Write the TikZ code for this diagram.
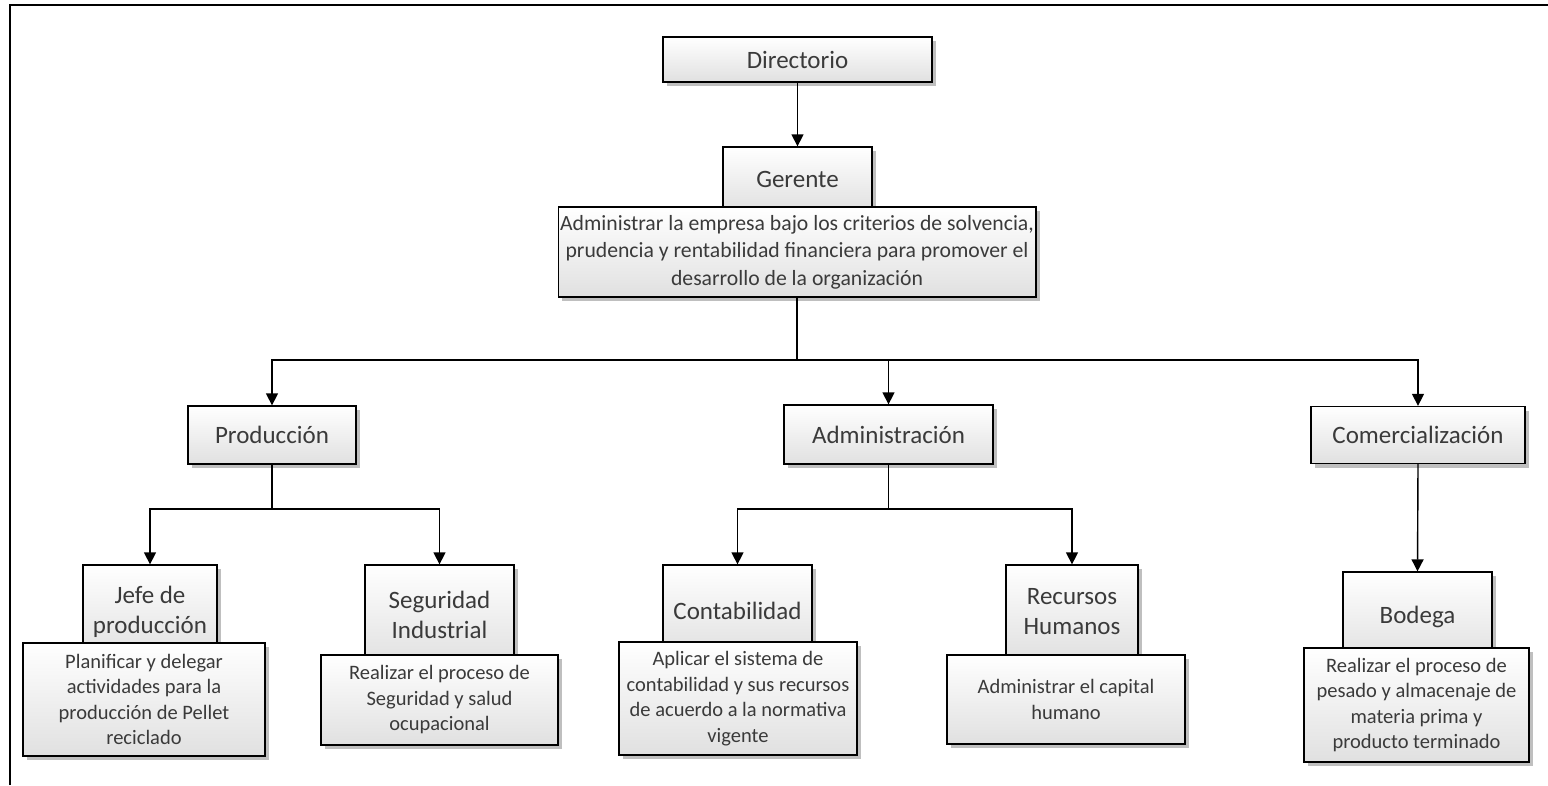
\documentclass[tikz,border=0pt]{standalone}
\usepackage{fontspec}
\setmainfont{Carlito}
\usetikzlibrary{arrows.meta,shadows}
\definecolor{txt}{HTML}{3A3A3A}
\tikzset{
  orgbox/.style={draw=black, line width=1.3pt, top color=white, bottom color=black!12,
    drop shadow={shadow xshift=4pt, shadow yshift=-4pt, fill=black!50},
    align=center, inner sep=2pt, text=txt},
  titlebox/.style={orgbox, font=\fontsize{25}{30}\selectfont},
  topdesc/.style={orgbox, font=\fontsize{21.7}{27.5}\selectfont},
  descbox/.style={orgbox, font=\fontsize{20.5}{25.5}\selectfont},
  link/.style={line width=1.4pt, draw=black},
  arr/.style={link, -{Triangle[length=12pt,width=12pt]}}
}
\begin{document}
\begin{tikzpicture}[x=1pt,y=-1pt]
\useasboundingbox (0,0) rectangle (1548,785);
% outer frame (top and left edges)
\draw[line width=2.2pt] (10,785) -- (10,5) -- (1548,5);

% top level
\node[titlebox, minimum width=269pt, minimum height=45pt] (dir) at (797.5,59.5) {Directorio};
\node[titlebox, minimum width=149pt, minimum height=64pt] (ger) at (797.5,179) {Gerente};
\node[topdesc, minimum width=476pt, minimum height=90pt] (gerd) at (797,252)
  {Administrar la empresa bajo los criterios de solvencia,\\prudencia y rentabilidad financiera para promover el\\desarrollo de la organización};

% departments
\node[titlebox, minimum width=168pt, minimum height=58pt] (prod) at (272,435) {Producción};
\node[titlebox, minimum width=209pt, minimum height=59pt] (adm) at (888.5,434.5) {Administración};
\node[titlebox, minimum width=214pt, minimum height=57pt] (com) at (1418,435) {Comercialización};

% units: title shapes run on behind their description boxes
\node[titlebox, minimum width=134pt, minimum height=94pt] (jefe) at (150,612) {Jefe de\\producción};
\node[descbox, minimum width=242pt, minimum height=113pt] (jefed) at (144,699.5)
  {Planificar y delegar\\actividades para la\\producción de Pellet\\reciclado};

\node[titlebox, minimum width=149pt, minimum height=100pt] (seg) at (439.5,615) {Seguridad\\Industrial};
\node[descbox, minimum width=237pt, minimum height=90pt] (segd) at (439.5,700)
  {Realizar el proceso de\\Seguridad y salud\\ocupacional};

\node[titlebox, minimum width=149pt, minimum height=91pt] (cont) at (737.5,610.5) {Contabilidad};
\node[descbox, minimum width=238pt, minimum height=113pt] (contd) at (738,698.5)
  {Aplicar el sistema de\\contabilidad y sus recursos\\de acuerdo a la normativa\\vigente};

\node[titlebox, minimum width=132pt, minimum height=94pt] (rh) at (1072,612) {Recursos\\Humanos};
\node[descbox, minimum width=238pt, minimum height=89pt] (rhd) at (1066,699.5)
  {Administrar el capital\\humano};

\node[titlebox, minimum width=149pt, minimum height=90pt] (bod) at (1417.5,617) {Bodega};
\node[descbox, minimum width=225pt, minimum height=114pt] (bodd) at (1416.5,705)
  {Realizar el proceso de\\pesado y almacenaje de\\materia prima y\\producto terminado};

% bus junctions
\coordinate (busA) at (797,360);
\coordinate (busP) at (272,509);
\coordinate (busD) at (888.5,509);

% connectors
\draw[arr] (dir.south) -- (ger.north);
\draw[link] (gerd.south) -- (busA);
\draw[arr] (busA) -| (prod.north);
\draw[arr] (busA) -| (adm.north);
\draw[arr] (busA) -| (com.north);

\draw[link] (prod.south) -- (busP);
\draw[arr] (busP) -| (jefe.north);
\draw[arr] (busP) -| (seg.north);

\draw[link] (adm.south) -- (busD);
\draw[arr] (busD) -| (cont.north);
\draw[arr] (busD) -| (rh.north);

\draw[arr] (com.south) -- (bod.north);
\end{tikzpicture}
\end{document}
